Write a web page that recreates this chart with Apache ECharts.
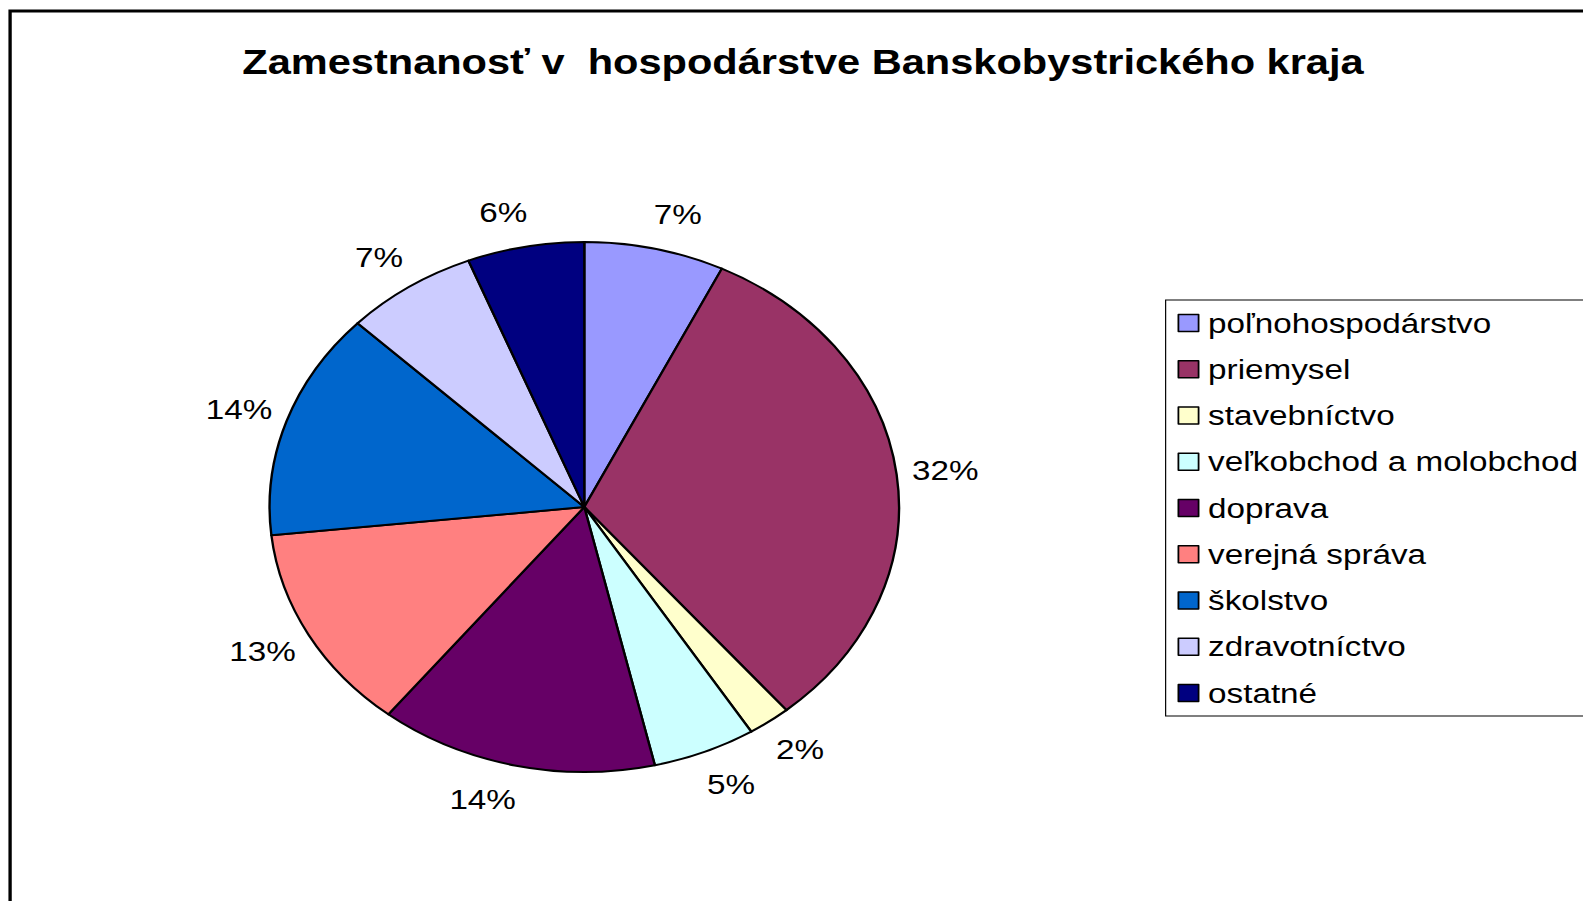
<!DOCTYPE html>
<html>
<head>
<meta charset="utf-8">
<script src="https://cdn.jsdelivr.net/npm/echarts@6/dist/echarts.min.js"></script>
<style>
  html, body { margin: 0; padding: 0; background: #fff; overflow: hidden; }
  #wrap { width: 1583px; height: 901px; overflow: hidden; position: relative; }
  #chart { width: 1333px; height: 901px; transform: scaleX(1.1876); transform-origin: 0 0; }
</style>
</head>
<body>
<div id="wrap"><div id="chart"></div></div>
<script>
// ---- data ----
const titleText = 'Zamestnanosť v  hospodárstve Banskobystrického kraja';
const categories = ['poľnohospodárstvo', 'priemysel', 'stavebníctvo', 'veľkobchod a molobchod',
  'doprava', 'verejná správa', 'školstvo', 'zdravotníctvo', 'ostatné'];
const shares = [7.2, 31.7, 2.2, 5.3, 14.3, 12.6, 13.9, 6.8, 6.0];
const colors = ['#9999FF', '#993366', '#FFFFCC', '#CCFFFF', '#660066', '#FF8080', '#0066CC', '#CCCCFF', '#000080'];

const font = 'Liberation Sans, Arial, sans-serif';
const pieCenter = [492, 507];
const chart = echarts.init(document.getElementById('chart'), null, { renderer: 'svg' });

chart.setOption({
  animation: false,
  backgroundColor: '#fff',
  color: colors,
  title: {
    text: titleText,
    left: 199,
    top: 39,
    textStyle: { fontFamily: font, fontSize: 35, fontWeight: 'bold', color: '#000' }
  },
  graphic: [{
    type: 'rect',
    shape: { x: 8.5, y: 11, width: 2000, height: 2000 },
    style: { fill: 'none', stroke: '#000', lineWidth: 2.8 },
    silent: true
  }],
  legend: {
    orient: 'vertical',
    left: 981.5,
    top: 300,
    padding: [6, 30, 6, 10],
    itemGap: 12.25,
    itemWidth: 17,
    itemHeight: 17,
    icon: 'rect',
    borderColor: '#000',
    borderWidth: 1,
    backgroundColor: '#fff',
    itemStyle: { borderColor: '#000', borderWidth: 1.5 },
    textStyle: { fontFamily: font, fontSize: 28, color: '#000', lineHeight: 34, padding: [0, 0, 0, 3] },
    data: categories
  },
  series: [{
    type: 'pie',
    center: pieCenter,
    radius: [0, 265],
    startAngle: 90,
    clockwise: true,
    avoidLabelOverlap: false,
    itemStyle: { borderColor: '#000', borderWidth: 2 },
    label: {
      show: true,
      position: 'outside',
      fontFamily: font,
      fontSize: 28,
      color: '#000',
      distanceToLabelLine: -5,
      formatter: p => Math.round(p.percent) + '%'
    },
    labelLine: { show: false, length: 18, length2: 0 },
    labelLayout: function (params) {
      const r = params.labelRect;
      const yc = r.y + r.height / 2;
      return { dy: (yc - pieCenter[1]) * 0.06 };
    },
    emphasis: { disabled: true },
    data: categories.map((c, i) => ({ name: c, value: shares[i] }))
  }]
});
</script>
</body>
</html>
